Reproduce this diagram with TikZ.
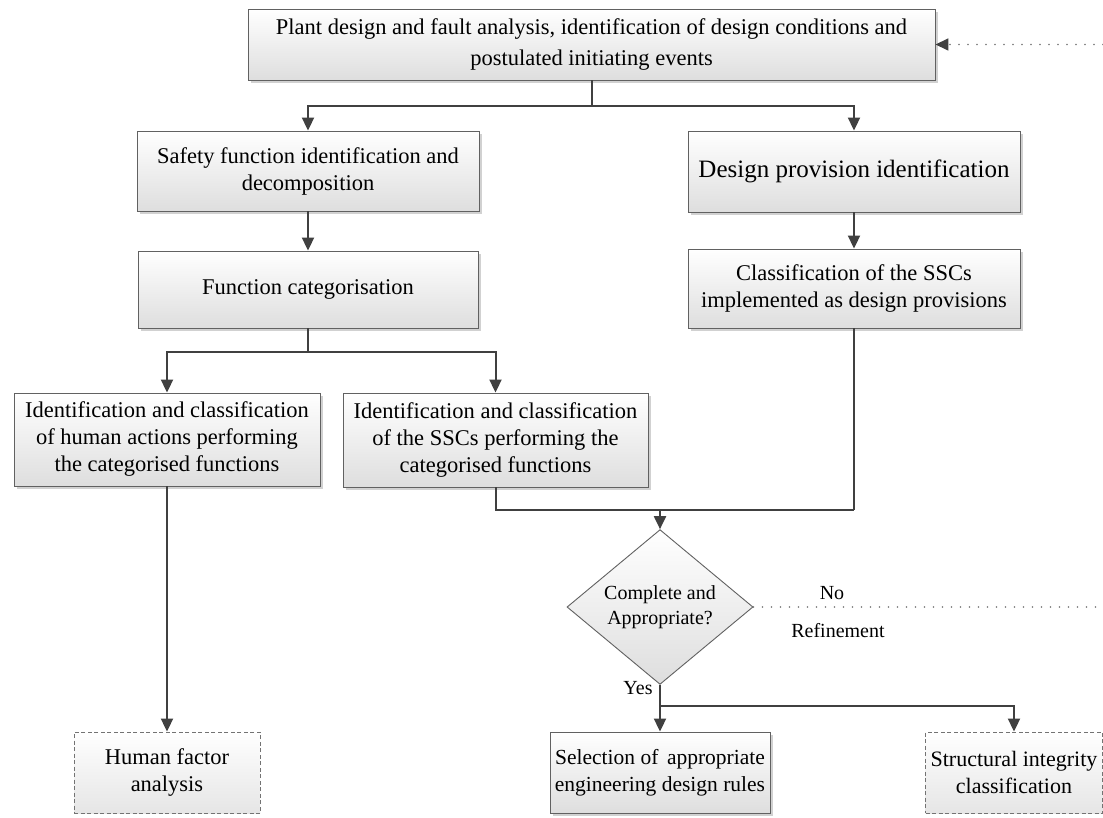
\documentclass[tikz,border=0pt]{standalone}
\usepackage{fontspec}
\setmainfont{Liberation Serif}
\usetikzlibrary{arrows.meta,shapes.geometric,shadows}
\begin{document}
\begin{tikzpicture}[x=1pt,y=-1pt,
  box/.style={draw=black!62, line width=0.9pt, top color=white, bottom color=black!13,
    drop shadow={shadow xshift=3pt,shadow yshift=-3pt,fill=black!18,opacity=1},
    inner sep=0pt, align=center, font=\fontsize{22.5}{27}\selectfont},
  dbox/.style={draw=black!55, dash pattern=on 4pt off 2.5pt, line width=0.9pt,
    top color=white, bottom color=black!10,
    inner sep=0pt, align=center, font=\fontsize{22.5}{27}\selectfont},
  decision/.style={diamond, draw=black!62, line width=0.9pt, top color=white, bottom color=black!13,
    inner sep=0pt, align=center, font=\fontsize{20}{25}\selectfont},
  line/.style={draw=black!75, line width=2pt},
  arrow/.style={line, -{Triangle[length=13pt,width=12pt]}},
  dots/.style={draw=black!55, line width=1.6pt, dash pattern=on 0pt off 9pt, line cap=round},
  lbl/.style={font=\fontsize{20}{24}\selectfont, inner sep=0pt}
]
\fill[white] (0,0) rectangle (1103,818);
\useasboundingbox (0,0) rectangle (1103,818);

\node[box, minimum width=687pt, minimum height=71pt, font=\fontsize{22.5}{31}\selectfont] (top) at (591.5,44.5)
  {Plant design and fault analysis, identification of design conditions and\\ postulated initiating events};
\node[box, minimum width=342pt, minimum height=80pt] (saf) at (308,171)
  {Safety function identification and\\ decomposition};
\node[box, minimum width=340pt, minimum height=77pt] (fun) at (308,289.5)
  {Function categorisation};
\node[box, minimum width=332pt, minimum height=81pt, font=\fontsize{25}{29}\selectfont] (des) at (854,171.5)
  {Design provision identification};
\node[box, minimum width=332pt, minimum height=79pt] (cls) at (854,288.5)
  {Classification of the SSCs\\ implemented as design provisions};
\node[box, minimum width=306pt, minimum height=93pt] (hum) at (167,439.5)
  {Identification and classification\\ of human actions performing\\ the categorised functions};
\node[box, minimum width=305pt, minimum height=94pt] (ssc) at (495.5,440)
  {Identification and classification\\ of the SSCs performing the\\ categorised functions};
\node[decision, minimum width=186pt, minimum height=138pt] (chk) at (660,607)
  {Complete and\\ Appropriate?};
\node[box, minimum width=220pt, minimum height=81pt, font=\fontsize{21.5}{27}\selectfont] (sel) at (660,772.5)
  {Selection of\hspace{0.4em}appropriate\\ engineering design rules};
\node[dbox, minimum width=186pt, minimum height=81pt] (hf) at (167,772.5)
  {Human factor\\ analysis};
\node[dbox, minimum width=177pt, minimum height=81pt, font=\fontsize{22}{27}\selectfont] (str) at (1014,772.5)
  {Structural integrity\\ classification};

\node[lbl] (no) at (832,593) {No};
\node[lbl] (ref) at (838,631) {Refinement};
\node[lbl] (yes) at (638,688) {Yes};

\coordinate (j1) at (591.5,106);
\draw[line] (top.south) -- (j1);
\draw[arrow] (j1) -| (saf.north);
\draw[arrow] (j1) -| (des.north);
\draw[arrow] (saf) -- (fun);
\coordinate (j2) at (308,352);
\draw[line] (fun.south) -- (j2);
\draw[arrow] (j2) -| (hum.north);
\draw[arrow] (j2) -| (ssc.north);
\draw[arrow] (des) -- (cls);
\coordinate (j3) at (854,510);
\draw[line] (cls.south) -- (j3);
\draw[line] (ssc.south) |- (j3);
\coordinate (j4) at (660,510);
\draw[arrow] (j4) -- (chk.north);
\draw[arrow] (hum) -- (hf);
\coordinate (j5) at (660,706);
\draw[line] (chk.south) -- (j5);
\draw[arrow] (j5) -- (sel);
\draw[arrow] (j5) -| (str.north);

\coordinate (e1) at (1103,44.5);
\draw[dots, -{Triangle[length=13pt,width=12pt,color=black!75]}] (e1) -- (top.east);
\coordinate (e2) at (1103,607);
\draw[dots] (chk.east) -- (e2);
\end{tikzpicture}
\end{document}
